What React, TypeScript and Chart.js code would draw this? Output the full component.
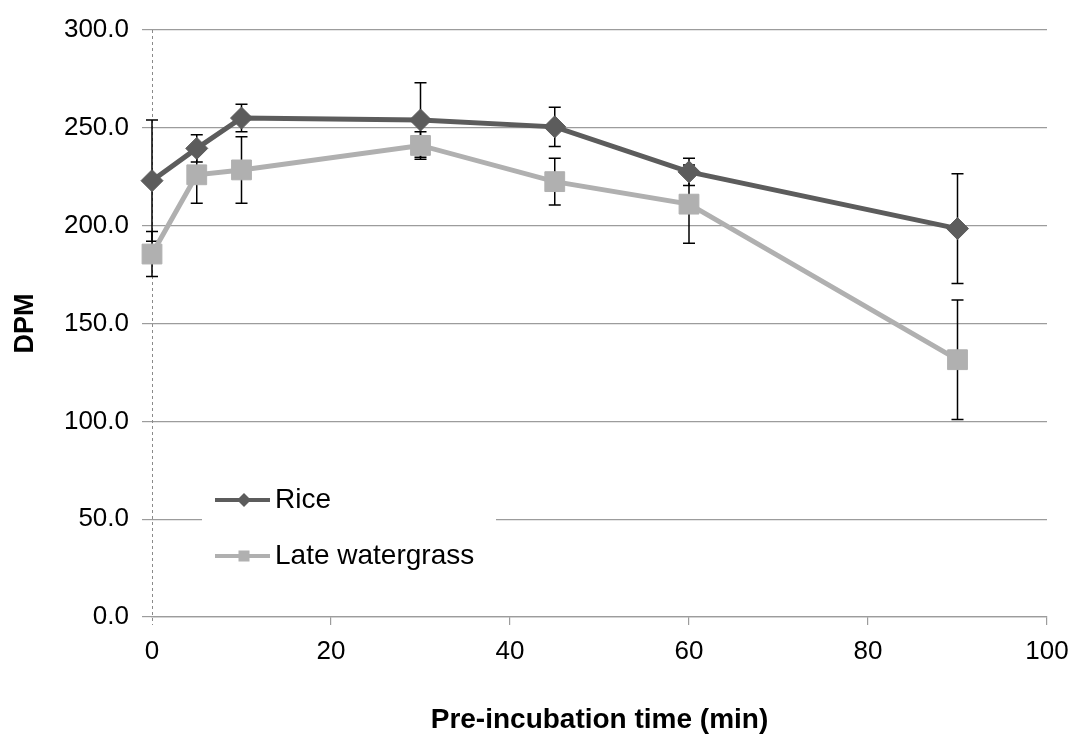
import { useEffect, useRef } from 'react';
import { Chart, registerables } from 'chart.js';

Chart.register(...registerables);

const times = [0, 5, 10, 30, 45, 60, 90];
const riceValues = [223, 239.5, 255, 254, 250.5, 227.5, 198.5];
const riceErrors = [31, 7, 7, 19, 10, 7, 28];
const grassValues = [185.5, 226, 228.5, 241, 222.5, 211, 131.5];
const grassErrors = [11.5, 14.5, 17, 7, 12, 20, 30.5];
const seriesNames = ['Rice', 'Late watergrass'];
const xTitle = 'Pre-incubation time (min)';
const yTitle = 'DPM';

const RICE_COLOR = '#5c5c5c';
const GRASS_COLOR = '#b0b0b0';
const GRID_COLOR = '#9c9c9c';
const FONT = "'Liberation Sans', Arial, sans-serif";

const errorsByDataset = [riceErrors, grassErrors];
const valuesByDataset = [riceValues, grassValues];

const errorBarPlugin = {
  id: 'errorBars',
  beforeDatasetsDraw(chart: any) {
    const { ctx, scales, chartArea } = chart;
    const xs = scales.x;
    const ys = scales.y;
    ctx.save();
    // dashed vertical axis line at x = 0
    ctx.strokeStyle = '#8a8a8a';
    ctx.lineWidth = 1;
    ctx.setLineDash([3, 3]);
    ctx.beginPath();
    ctx.moveTo(chartArea.left + 0.5, chartArea.top);
    ctx.lineTo(chartArea.left + 0.5, chartArea.bottom + 8);
    ctx.stroke();
    ctx.setLineDash([]);

    ctx.strokeStyle = '#000';
    ctx.lineWidth = 1.5;
    valuesByDataset.forEach((vals, di) => {
      const errs = errorsByDataset[di];
      vals.forEach((v, j) => {
        const x = xs.getPixelForValue(times[j]);
        const yt = ys.getPixelForValue(v + errs[j]);
        const yb = ys.getPixelForValue(v - errs[j]);
        ctx.beginPath();
        ctx.moveTo(x, yt);
        ctx.lineTo(x, yb);
        ctx.moveTo(x - 6, yt);
        ctx.lineTo(x + 6, yt);
        ctx.moveTo(x - 6, yb);
        ctx.lineTo(x + 6, yb);
        ctx.stroke();
      });
    });
    ctx.restore();
  },
};

const legendPlugin = {
  id: 'insideLegend',
  afterDraw(chart: any) {
    const { ctx, chartArea } = chart;
    const left = chartArea.left;
    ctx.save();
    ctx.fillStyle = '#ffffff';
    ctx.fillRect(left + 50, 474, 294, 110);
    const entries = [
      { name: seriesNames[0], color: RICE_COLOR, style: 'rectRot', y: 500 },
      { name: seriesNames[1], color: GRASS_COLOR, style: 'rect', y: 556 },
    ];
    entries.forEach((e) => {
      ctx.strokeStyle = e.color;
      ctx.lineWidth = 4;
      ctx.beginPath();
      ctx.moveTo(left + 63, e.y);
      ctx.lineTo(left + 118, e.y);
      ctx.stroke();
      ctx.fillStyle = e.color;
      const cx = left + 92;
      if (e.style === 'rectRot') {
        ctx.beginPath();
        ctx.moveTo(cx, e.y - 7);
        ctx.lineTo(cx + 7, e.y);
        ctx.lineTo(cx, e.y + 7);
        ctx.lineTo(cx - 7, e.y);
        ctx.closePath();
        ctx.fill();
      } else {
        ctx.fillRect(cx - 5.5, e.y - 5.5, 11, 11);
      }
      ctx.fillStyle = '#000';
      ctx.font = `28px ${FONT}`;
      ctx.textBaseline = 'middle';
      ctx.textAlign = 'left';
      ctx.fillText(e.name, left + 123, e.y);
    });
    ctx.restore();
  },
};

export default function App() {
  const canvasRef = useRef<HTMLCanvasElement>(null);

  useEffect(() => {
    const canvas = canvasRef.current;
    if (!canvas) return;
    Chart.defaults.font.family = FONT;
    const chart = new Chart(canvas, {
      type: 'line',
      data: {
        datasets: [
          {
            label: seriesNames[0],
            data: times.map((t, i) => ({ x: t, y: riceValues[i] })),
            borderColor: RICE_COLOR,
            backgroundColor: RICE_COLOR,
            borderWidth: 5,
            pointStyle: 'rectRot',
            pointRadius: 11,
            pointBorderWidth: 1,
            pointBackgroundColor: RICE_COLOR,
            pointBorderColor: RICE_COLOR,
            tension: 0,
            clip: false,
          },
          {
            label: seriesNames[1],
            data: times.map((t, i) => ({ x: t, y: grassValues[i] })),
            borderColor: GRASS_COLOR,
            backgroundColor: GRASS_COLOR,
            borderWidth: 5,
            pointStyle: 'rect',
            pointRadius: 14,
            pointBorderWidth: 1,
            pointBackgroundColor: GRASS_COLOR,
            pointBorderColor: GRASS_COLOR,
            tension: 0,
            clip: false,
          },
        ],
      },
      options: {
        responsive: false,
        animation: false,
        layout: { padding: { top: 30, right: 33, left: 0, bottom: 0 } },
        plugins: {
          legend: { display: false },
          tooltip: { enabled: false },
        },
        scales: {
          x: {
            type: 'linear',
            position: 'bottom',
            min: 0,
            max: 100,
            ticks: {
              stepSize: 20,
              color: '#000',
              font: { size: 26, family: FONT },
              padding: 11,
              maxRotation: 0,
            },
            grid: {
              drawOnChartArea: false,
              drawTicks: true,
              tickLength: 8,
              color: (c: any) => (c.tick && c.tick.value === 0 ? 'rgba(0,0,0,0)' : GRID_COLOR),
              lineWidth: 1.2,
            },
            border: { display: true, color: GRID_COLOR, width: 1.2 },
            title: {
              display: true,
              text: xTitle,
              color: '#000',
              font: { size: 28, weight: 'bold', family: FONT },
              padding: { top: 0, bottom: 3 },
            },
            afterFit: (s: any) => {
              s.height = 123;
            },
          },
          y: {
            type: 'linear',
            min: 0,
            max: 300,
            ticks: {
              stepSize: 50,
              color: '#000',
              font: { size: 26, family: FONT },
              padding: 13,
              callback: (v: any) => Number(v).toFixed(1),
            },
            grid: {
              drawTicks: true,
              tickLength: 10,
              color: GRID_COLOR,
              lineWidth: 1.2,
            },
            border: { display: false },
            title: {
              display: true,
              text: yTitle,
              color: '#000',
              font: { size: 27, weight: 'bold', family: FONT },
              padding: { top: 9, bottom: 0 },
            },
            afterFit: (s: any) => {
              s.width = 152;
            },
          },
        },
      },
      plugins: [errorBarPlugin, legendPlugin],
    });
    return () => chart.destroy();
  }, []);

  return (
    <div style={{ position: 'absolute', left: 0, top: 0, width: 1080, height: 740, background: '#fff' }}>
      <canvas ref={canvasRef} width={1080} height={740} />
    </div>
  );
}
